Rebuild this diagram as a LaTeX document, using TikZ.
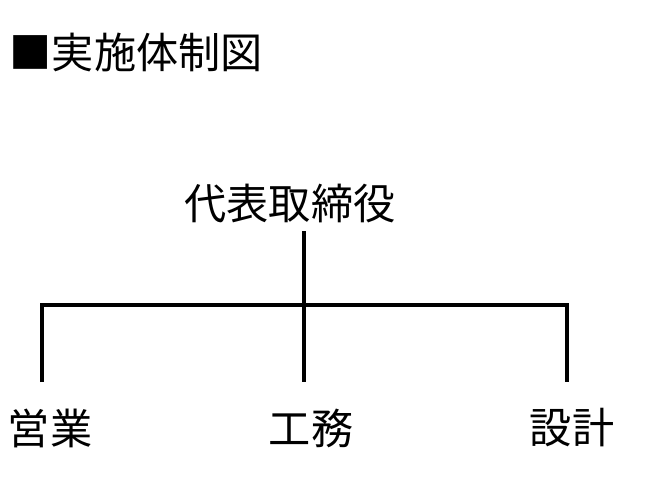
\documentclass[tikz,border=0pt]{standalone}
\usepackage{fontspec}
\setmainfont{Noto Sans CJK JP}
\begin{document}
\begin{tikzpicture}[x=1cm,y=-1cm,
  lbl/.style={inner sep=0pt,font=\fontsize{12}{14}\selectfont},
  link/.style={line width=1.1pt}]
\useasboundingbox (0,0) rectangle (6.45,4.98);
\node[lbl,anchor=west] (title) at (0.09,0.52) {■実施体制図};
\node[lbl] (ceo) at (2.90,2.03) {代表取締役};
\node[lbl] (sales) at (0.50,4.28) {営業};
\node[lbl] (works) at (3.11,4.28) {工務};
\node[lbl] (design) at (5.72,4.28) {設計};
\coordinate (top) at (3.04,2.31);
\coordinate (mid) at (3.04,3.05);
\coordinate (left) at (0.42,3.05);
\coordinate (right) at (5.67,3.05);
\coordinate (lb) at (0.42,3.82);
\coordinate (mb) at (3.04,3.82);
\coordinate (rb) at (5.67,3.82);
\draw[link] (top) -- (mb);
\draw[link] (lb) -- (left) -- (right) -- (rb);
\end{tikzpicture}
\end{document}
